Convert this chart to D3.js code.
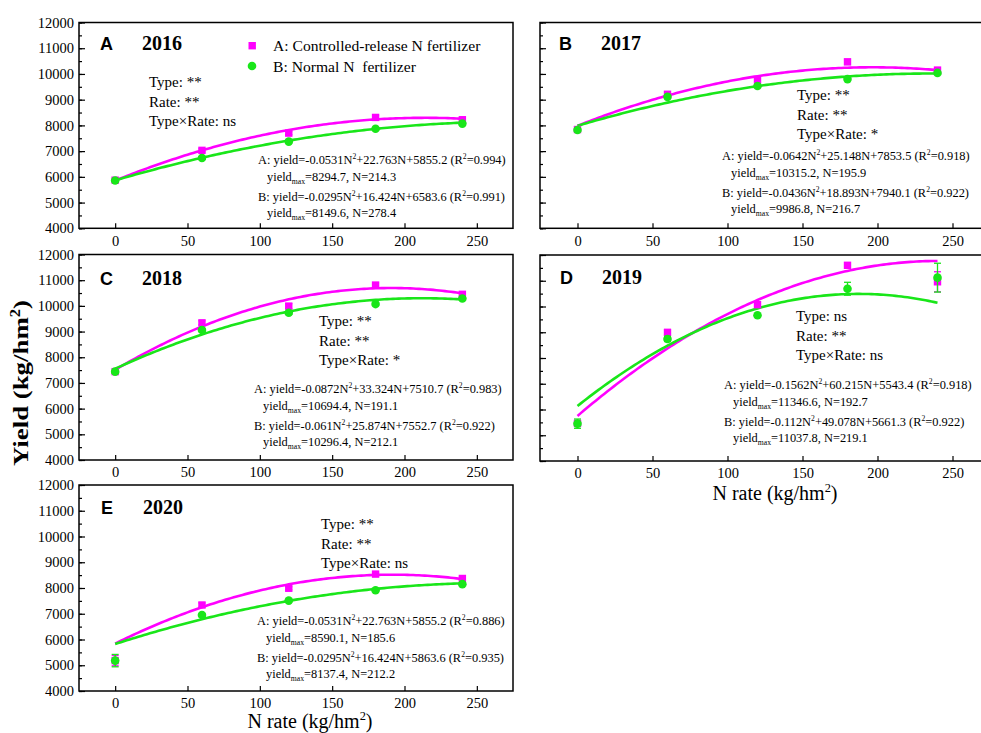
<!DOCTYPE html>
<html>
<head>
<meta charset="utf-8">
<script src="https://cdn.jsdelivr.net/npm/d3@7"></script>
<style>
  body { margin: 0; background: #fff; }
  svg { display: block; }
</style>
</head>
<body>
<div id="chart"></div>
<script>
// N rates (kg/hm2)
const nRates = [0, 60, 120, 180, 240];
const panelLetters = ["A", "B", "C", "D", "E"];
const years = ["2016", "2017", "2018", "2019", "2020"];

// mean yields, A = controlled-release N, B = normal N
const yieldCRN = [
  [5870, 7030, 7700, 8310, 8220],
  [7840, 9210, 9760, 10470, 10150],
  [7440, 9340, 9990, 10810, 10450],
  [5460, 8990, 10070, 11600, 10960],
  [5180, 7340, 7990, 8540, 8370]
];
const yieldNN = [
  [5860, 6730, 7370, 7870, 8070],
  [7820, 9110, 9530, 9800, 10040],
  [7440, 9060, 9730, 10070, 10290],
  [5450, 8740, 9660, 10690, 11120],
  [5180, 6950, 7510, 7910, 8150]
];
const errCRN = [
  [40, 60, 60, 80, 50],
  [40, 80, 80, 100, 60],
  [40, 80, 100, 80, 60],
  [100, 120, 80, 100, 390],
  [200, 80, 60, 60, 60]
];
const errNN = [
  [40, 50, 50, 50, 50],
  [40, 60, 60, 60, 50],
  [40, 60, 60, 60, 50],
  [180, 100, 60, 250, 560],
  [240, 60, 50, 50, 50]
];

// drawn quadratic fits [a, b, c]: yield = aN^2 + bN + c
const fitCRN = [
  [-0.0531, 22.763, 5855.2],
  [-0.0588, 23.125, 7985],
  [-0.0872, 33.324, 7510.7],
  [-0.1035, 49.92, 5750],
  [-0.0727, 27.9, 5840]
];
const fitNN = [
  [-0.0295, 16.424, 5863.6],
  [-0.0364, 17.2, 7985],
  [-0.061, 25.874, 7552.7],
  [-0.1241, 46.49, 6135],
  [-0.03455, 18.1, 5825]
];

// significance
const sigType = ["**", "**", "**", "ns", "**"];
const sigRate = ["**", "**", "**", "**", "**"];
const sigInter = ["ns", "*", "*", "ns", "ns"];

// printed equations: a, rest, R2, yield max, N
const eqCRN = [
  ["-0.0531", "+22.763N+5855.2", "0.994", "8294.7", "214.3"],
  ["-0.0642", "+25.148N+7853.5", "0.918", "10315.2", "195.9"],
  ["-0.0872", "+33.324N+7510.7", "0.983", "10694.4", "191.1"],
  ["-0.1562", "+60.215N+5543.4", "0.918", "11346.6", "192.7"],
  ["-0.0531", "+22.763N+5855.2", "0.886", "8590.1", "185.6"]
];
const eqNN = [
  ["-0.0295", "+16.424N+6583.6", "0.991", "8149.6", "278.4"],
  ["-0.0436", "+18.893N+7940.1", "0.922", "9986.8", "216.7"],
  ["-0.061", "+25.874N+7552.7", "0.922", "10296.4", "212.1"],
  ["-0.112", "+49.078N+5661.3", "0.922", "11037.8", "219.1"],
  ["-0.0295", "+16.424N+5863.6", "0.935", "8137.4", "212.2"]
];

const xTicks = [0, 50, 100, 150, 200, 250];
const yTicks = [4000, 5000, 6000, 7000, 8000, 9000, 10000, 11000, 12000];
const yMinor = d3.range(4000, 12001, 500);

const W = 981, H = 733;
const MAG = "#ff00ff", GRN = "#19e619";
const SERIF = "'Times New Roman', 'Liberation Serif', Times, serif";
const SANS = "Arial, 'Liberation Sans', Helvetica, sans-serif";

const panels = [
  { x0: 79, x1: 513, y0: 22.5, y1: 228.3, ylab: true, tx: 149, ty: 87, ex: 258, ey: 164, lx: 100, ly: 50 },
  { x0: 540, x1: 990, y0: 22.5, y1: 228.3, ylab: false, tx: 797, ty: 100, ex: 722, ey: 160, lx: 559, ly: 50 },
  { x0: 79, x1: 513, y0: 254.5, y1: 460, ylab: true, tx: 319, ty: 326, ex: 254, ey: 393, lx: 100, ly: 285 },
  { x0: 540, x1: 990, y0: 255, y1: 461, ylab: false, tx: 796, ty: 321, ex: 724, ey: 389, lx: 560, ly: 284 },
  { x0: 79, x1: 513, y0: 485, y1: 691, ylab: true, tx: 321, ty: 529, ex: 257, ey: 625, lx: 101, ly: 514 }
];

const svg = d3.select("#chart").append("svg")
  .attr("width", W).attr("height", H);

// segments: [text, shift] shift = 0 normal, 1 sup, -1 sub
function rich(g, x, y, size, segs) {
  const t = g.append("text").attr("x", x).attr("y", y)
    .style("font-family", SERIF).style("font-size", size + "px");
  let cur = 0;
  segs.forEach(([s, k]) => {
    const off = k === 1 ? -size * 0.38 : k === -1 ? size * 0.25 : 0;
    const ts = t.append("tspan").attr("dy", off - cur).text(s);
    if (k !== 0) ts.style("font-size", (size * 0.62) + "px");
    cur = off;
  });
  return t;
}

function eqLines(g, x, y, lab, eq) {
  rich(g, x, y, 12.4, [
    [lab + ": yield=" + eq[0] + "N", 0], ["2", 1], [eq[1] + " (R", 0], ["2", 1], ["=" + eq[2] + ")", 0]
  ]);
  rich(g, x + 9, y + 16.5, 12.4, [
    ["yield", 0], ["max", -1], ["=" + eq[3] + ", N=" + eq[4], 0]
  ]);
}

panels.forEach((p, i) => {
  const g = svg.append("g");
  const x = d3.scaleLinear().domain([-25, 275]).range([p.x0, p.x1]);
  const y = d3.scaleLinear().domain([4000, 12000]).range([p.y1, p.y0]);

  // axes (inward ticks)
  const xa = g.append("g").attr("transform", `translate(0,${p.y1})`)
    .call(d3.axisBottom(x).tickValues(xTicks).tickSize(-5).tickPadding(7).tickFormat(d3.format("d")));
  xa.select(".domain").remove();
  xa.selectAll("text").style("font-size", "14.5px").style("font-family", SERIF);

  const ym = g.append("g").attr("transform", `translate(${p.x0},0)`)
    .call(d3.axisLeft(y).tickValues(yMinor).tickSize(-3).tickFormat(""));
  ym.select(".domain").remove();
  const ya = g.append("g").attr("transform", `translate(${p.x0},0)`)
    .call(d3.axisLeft(y).tickValues(yTicks).tickSize(-6).tickPadding(5)
      .tickFormat(p.ylab ? d3.format("d") : ""));
  ya.select(".domain").remove();
  ya.selectAll("text").style("font-size", "14.5px").style("font-family", SERIF);
  g.selectAll(".tick line").attr("stroke-width", 1.2);

  g.append("rect")
    .attr("x", p.x0).attr("y", p.y0)
    .attr("width", p.x1 - p.x0).attr("height", p.y1 - p.y0)
    .attr("fill", "none").attr("stroke", "#000").attr("stroke-width", 1.5);

  // fitted curves
  const nLine = d3.range(0, 240.01, 2);
  const line = d3.line().x(d => x(d[0])).y(d => y(d[1]));
  [[fitCRN[i], MAG], [fitNN[i], GRN]].forEach(([f, col]) => {
    g.append("path")
      .datum(nLine.map(n => [n, f[0] * n * n + f[1] * n + f[2]]))
      .attr("d", line).attr("fill", "none")
      .attr("stroke", col).attr("stroke-width", 2.6);
  });

  // error bars + points
  [[yieldCRN[i], errCRN[i], MAG, "sq"], [yieldNN[i], errNN[i], GRN, "ci"]].forEach(([vals, errs, col, shape]) => {
    const pts = nRates.map((n, k) => ({ n, v: vals[k], e: errs[k] }));
    const eb = g.append("g").attr("stroke", col).attr("stroke-width", 1.3);
    pts.forEach(d => {
      eb.append("line").attr("x1", x(d.n)).attr("x2", x(d.n)).attr("y1", y(d.v - d.e)).attr("y2", y(d.v + d.e));
      [d.v - d.e, d.v + d.e].forEach(v => eb.append("line")
        .attr("x1", x(d.n) - 3.5).attr("x2", x(d.n) + 3.5).attr("y1", y(v)).attr("y2", y(v)));
    });
    if (shape === "sq") {
      g.selectAll(null).data(pts).enter().append("rect")
        .attr("x", d => x(d.n) - 3.7).attr("y", d => y(d.v) - 3.7)
        .attr("width", 7.4).attr("height", 7.4).attr("fill", col);
    } else {
      g.selectAll(null).data(pts).enter().append("circle")
        .attr("cx", d => x(d.n)).attr("cy", d => y(d.v)).attr("r", 4.3).attr("fill", col);
    }
  });

  // panel letter + year
  g.append("text").attr("x", p.lx).attr("y", p.ly)
    .style("font-family", SANS).style("font-weight", "bold").style("font-size", "18px")
    .text(panelLetters[i]);
  g.append("text").attr("x", p.lx + 42).attr("y", p.ly)
    .style("font-family", SERIF).style("font-weight", "bold").style("font-size", "20px")
    .text(years[i]);

  // significance
  ["Type: " + sigType[i], "Rate: " + sigRate[i], "Type×Rate: " + sigInter[i]].forEach((s, k) => {
    g.append("text").attr("x", p.tx).attr("y", p.ty + k * 19.5)
      .style("font-family", SERIF).style("font-size", "15px").text(s);
  });

  // equations
  eqLines(g, p.ex, p.ey, "A", eqCRN[i]);
  eqLines(g, p.ex, p.ey + 36.5, "B", eqNN[i]);
});

// legend (panel A)
const lg = svg.append("g");
lg.append("rect").attr("x", 248.5).attr("y", 42).attr("width", 7.4).attr("height", 7.4).attr("fill", MAG);
lg.append("text").attr("x", 273).attr("y", 51)
  .style("font-family", SERIF).style("font-size", "15.6px")
  .text("A: Controlled-release N fertilizer");
lg.append("circle").attr("cx", 252).attr("cy", 66).attr("r", 4.3).attr("fill", GRN);
lg.append("text").attr("x", 273).attr("y", 72)
  .style("font-family", SERIF).style("font-size", "15.6px").style("white-space", "pre")
  .text("B: Normal N  fertilizer");

// axis titles
const yt = svg.append("g").attr("transform", "translate(28,383) rotate(-90) scale(1.22,1)");
rich(yt, 0, 0, 22, [["Yield (kg/hm", 0], ["2", 1], [")", 0]])
  .attr("text-anchor", "middle").style("font-weight", "bold");

[[310, 728], [775, 500]].forEach(([cx, by]) => {
  rich(svg, cx, by, 20, [["N rate (kg/hm", 0], ["2", 1], [")", 0]])
    .attr("text-anchor", "middle");
});
</script>
</body>
</html>
